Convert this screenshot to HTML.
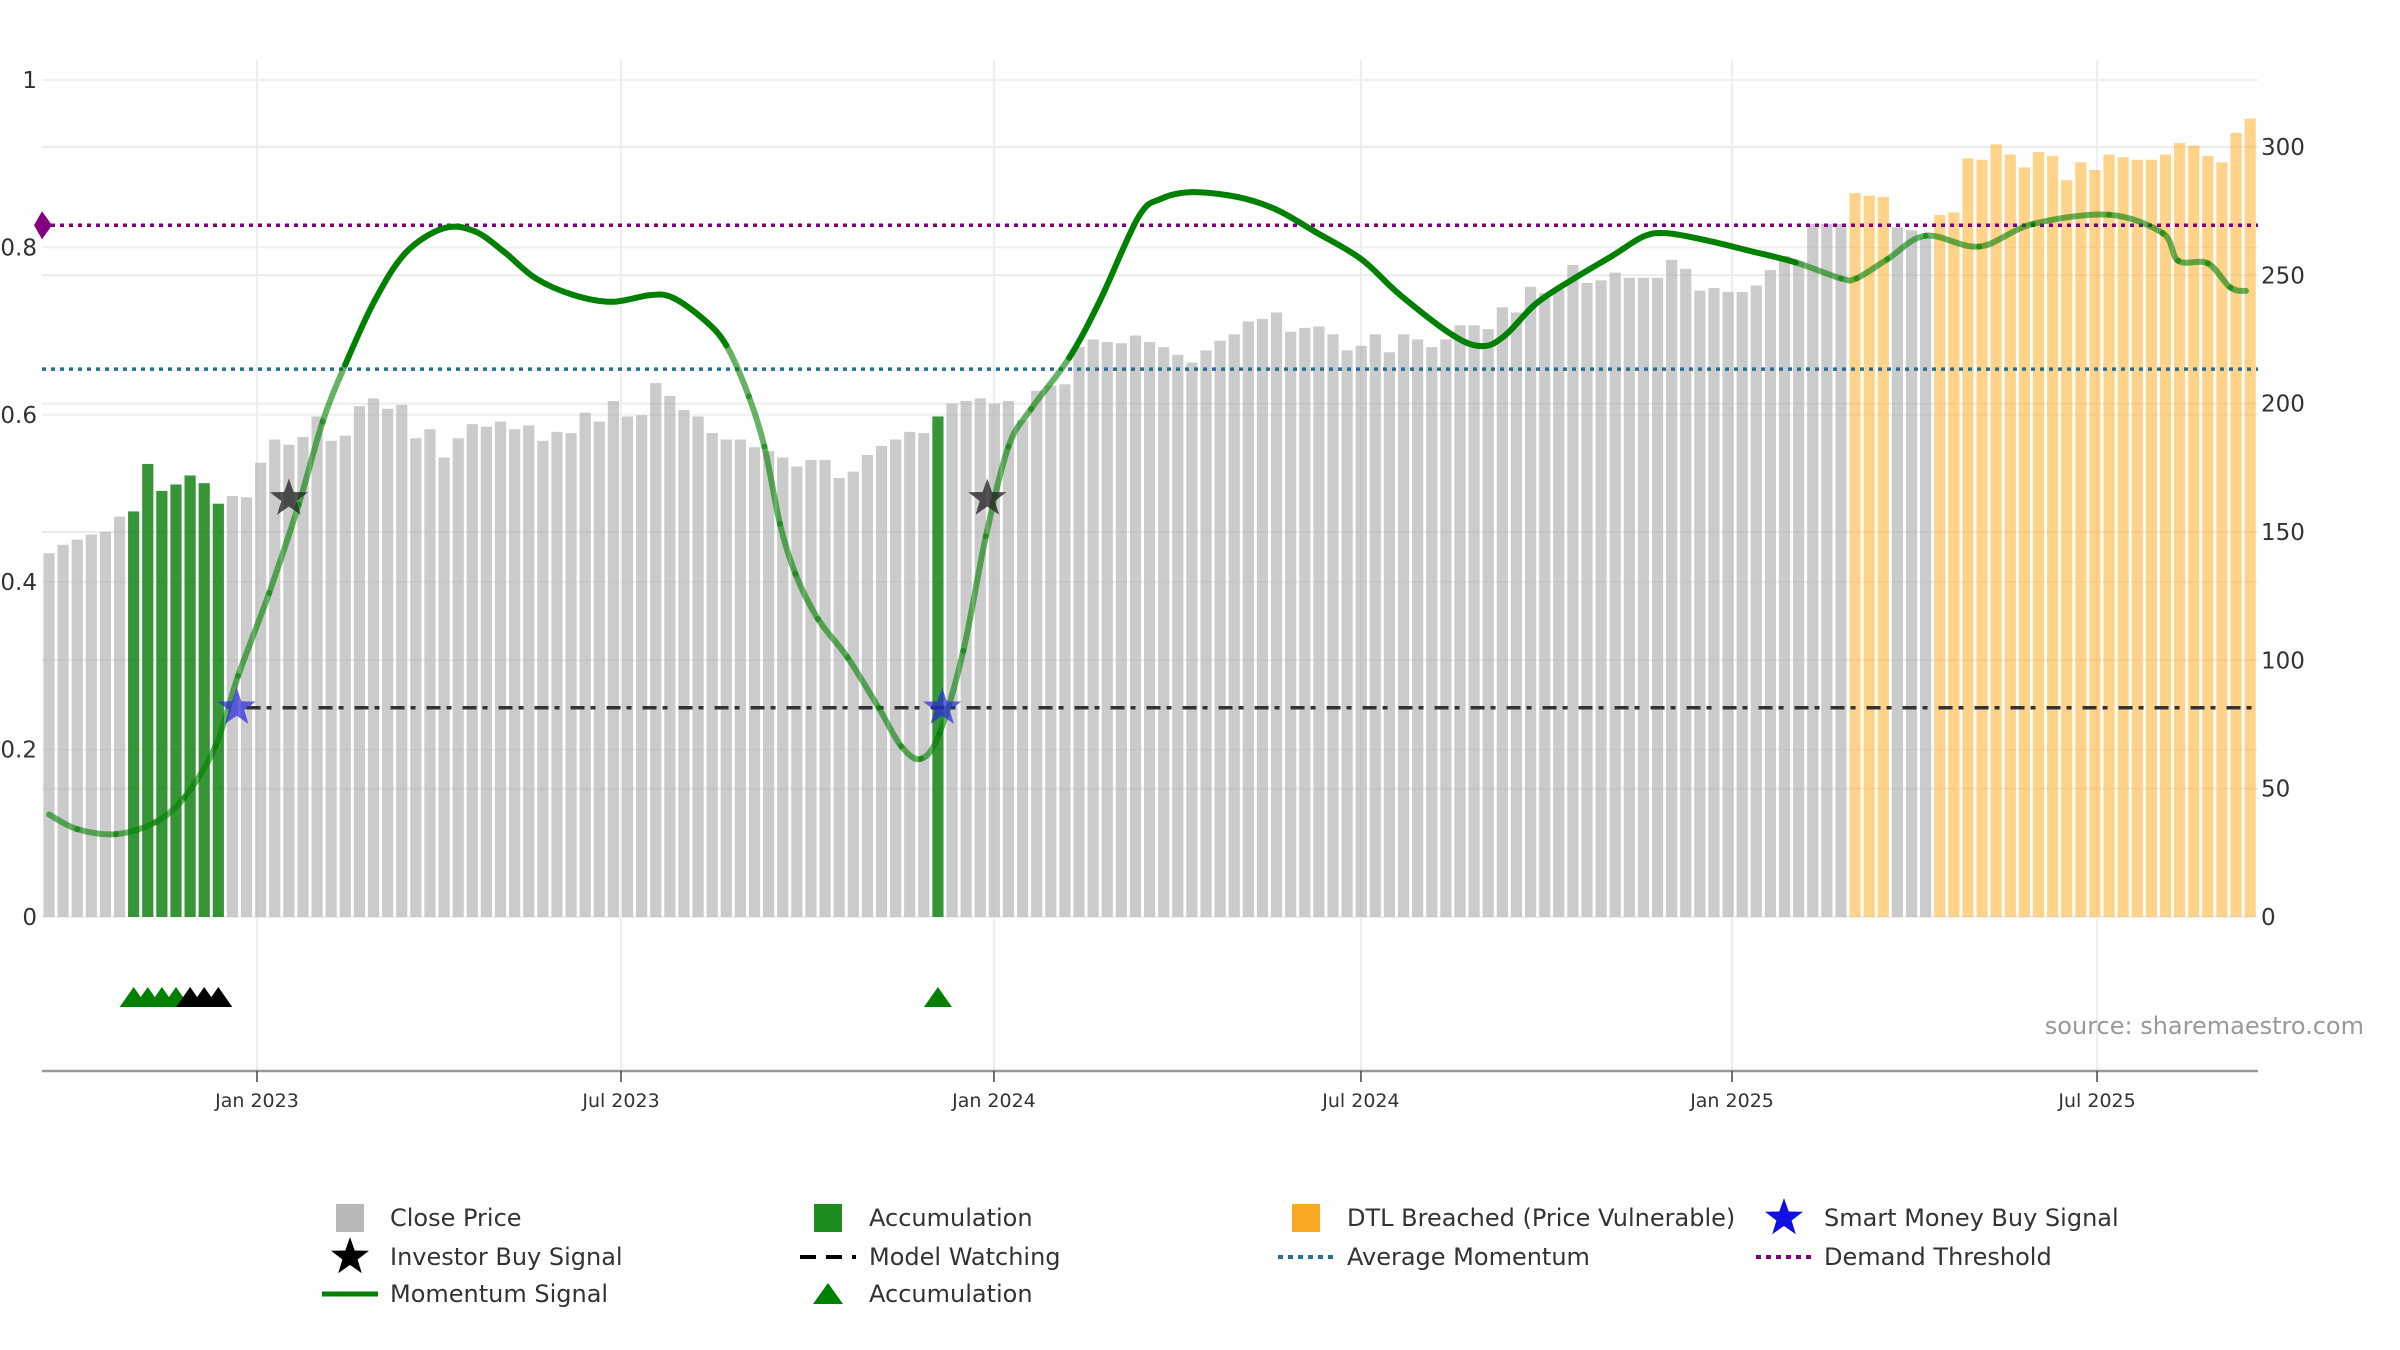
<!DOCTYPE html>
<html><head><meta charset="utf-8"><title>Momentum Chart</title>
<style>
body{margin:0;background:#fff;}
svg{display:block;font-family:"DejaVu Sans","Liberation Sans",sans-serif;}
</style></head>
<body>
<svg id="chart" width="2400" height="1350" viewBox="0 0 2400 1350" xmlns="http://www.w3.org/2000/svg">
<g id="grid"></g>
<g id="bars"></g>
<g id="lines"></g>
<g id="momentum"></g>
<g id="markers"></g>
<g id="axes"></g>
<text x="2364" y="1034" text-anchor="end" font-size="24" fill="#999">source: sharemaestro.com</text>
<g id="legend"></g>
</svg>
<script>
// ---- data ----
const prices = [141.7,145,147,149,150,156,158,176.5,166,168.5,172,169,161,164,163.5,177,186,184,187,195,185.5,187.5,199,202,198,199.5,186.5,190,179,186.5,192,191,193,190,191.5,185.5,189,188.5,196.5,193,201,195,195.5,208,203,197.5,195,188.5,186,186,183,181.5,179,175.5,178,178,171,173.5,180,183.5,186,189,188.5,195,200,201,202,200,201,193.5,205,207,207.5,222,225,224,223.5,226.5,224,222,219,216,
220.7,224.5,227,232,233,235.5,228,229.5,230,227,220.7,222.5,227,220,227,225,222,225,230.5,230.5,229,237.5,235.5,245.5,243,244.5,254,247,248,251,249,249,249,256,252.5,244,245,243.5,243.5,246,252,257.5,255.5,270,270,270,282,281,280.5,268.7,267.5,265,273.5,274.5,295.6,295,301,297,292,298,296.5,287,294,291,297,296,295,295,297,301.5,300.5,296.5,294,305.5,311];
// bar state ranges (week indices)
const accumulationRanges = [[6,12],[63,63]];
const dtlRanges = [[128,130],[134,156]];
const momentumWeeks = [0,2,4.75,7.5,9.6,11.8,13.4,15.6,17.7,19.4,21,23.1,25.3,28,30.2,32.3,34.5,37.2,39.9,42.6,44.2,46.4,48,49.6,50.7,51.8,52.9,54.5,56.6,58.8,60.4,61.8,63.1,64.8,66.4,68,69.6,72.3,74.5,77.2,78.8,81,84.3,87,89.7,93,95.7,99.5,101.6,103.2,105.4,108.1,110.8,113,114.6,117.3,120.5,123.8,127,128.1,130.3,133,136.8,140.6,146,149.8,150.9,153,154.6,155.7];
const momentumValues = [0.1225,0.105,0.099,0.113,0.143,0.204,0.288,0.387,0.493,0.592,0.66,0.737,0.794,0.823,0.819,0.794,0.763,0.743,0.735,0.743,0.74,0.714,0.683,0.622,0.562,0.47,0.41,0.356,0.31,0.25,0.204,0.189,0.219,0.318,0.455,0.562,0.607,0.668,0.737,0.836,0.858,0.866,0.86,0.845,0.819,0.786,0.744,0.695,0.682,0.695,0.733,0.763,0.79,0.813,0.817,0.809,0.796,0.782,0.763,0.763,0.786,0.814,0.801,0.828,0.839,0.817,0.784,0.781,0.752,0.748];
const demandThreshold = 0.8265;
const avgMomentum = 0.6545;
const modelWatching = 0.25;
const smartMoneyWeeks = [13.3,63.3];
const investorBuyWeeks = [17.0,66.5];
const investorBuyLevel = 0.5;
const accumTriWeeks = [6,7,8,9,63];
const blackTriWeeks = [10,11,12];
const leftTicks = [0,0.2,0.4,0.6,0.8,1];
const leftTickLabels = ["0","0.2","0.4","0.6","0.8","1"];
const rightTicks = [0,50,100,150,200,250,300];
const dateTickWeeks = [14.74,40.54,66.97,92.98,119.28,145.15];
const dateTickLabels = ["Jan 2023","Jul 2023","Jan 2024","Jul 2024","Jan 2025","Jul 2025"];

// ---- scales ----
const NS="http://www.w3.org/2000/svg";
const X0=49, STEP=14.11, BASE=917;
const xW = i => X0 + i*STEP;
const yL = v => BASE - v*837;
const yR = v => BASE - v*2.567;
const PL=42, PR=2258;
function mk(tag, attrs, parent){const e=document.createElementNS(NS,tag);for(const k in attrs)e.setAttribute(k,attrs[k]);parent.appendChild(e);return e;}
const G=id=>document.getElementById(id);
const inR=(i,rs)=>rs.some(r=>i>=r[0]&&i<=r[1]);

// grid
rightTicks.forEach(t=>{const l=mk('line',{x1:PL,x2:PR,y1:yR(t),y2:yR(t),stroke:'#ebebeb','stroke-width':2},G('grid'));

});
leftTicks.forEach(t=>{const l=mk('line',{x1:PL,x2:PR,y1:yL(t),y2:yL(t),stroke:'#f0f0f0','stroke-width':2},G('grid'));

});
dateTickWeeks.forEach(w=>{const l=mk('line',{x1:xW(w),x2:xW(w),y1:60,y2:1071,stroke:'#eeeeee','stroke-width':2},G('grid'));

});

// bars
const colors={g:'rgba(175,175,175,0.65)',a:'rgba(20,130,20,0.85)',d:'rgba(255,175,40,0.55)'};
prices.forEach((p,i)=>{const s=inR(i,accumulationRanges)?'a':(inR(i,dtlRanges)?'d':'g');
const r=mk('rect',{x:xW(i)-5.6,y:yR(p),width:11.2,height:BASE-yR(p),fill:colors[s]},G('bars'));

});

// reference lines
let l=mk('line',{x1:PL,x2:PR,y1:yL(avgMomentum),y2:yL(avgMomentum),stroke:'#2a6f8f','stroke-width':3.5,'stroke-dasharray':'4,5'},G('lines'));


l=mk('line',{x1:PL,x2:PR,y1:yL(demandThreshold),y2:yL(demandThreshold),stroke:'#800080','stroke-width':3.5,'stroke-dasharray':'4,5'},G('lines'));


l=mk('line',{x1:xW(14),x2:PR,y1:yL(modelWatching),y2:yL(modelWatching),stroke:'#333','stroke-width':3.5,'stroke-dasharray':'14,6,5,11'},G('lines'));


const dy=yL(demandThreshold);
l=mk('polygon',{points:`${PL},${dy-14} ${PL+10},${dy} ${PL},${dy+14} ${PL-8},${dy}`,fill:'#800080'},G('lines'));



// momentum smooth path (catmull-rom)
const pts=momentumWeeks.map((w,i)=>[xW(w),yL(momentumValues[i])]);
function seg(i){const p0=pts[Math.max(i-1,0)],p1=pts[i],p2=pts[i+1],p3=pts[Math.min(i+2,pts.length-1)];
const c1=[p1[0]+(p2[0]-p0[0])/6,p1[1]+(p2[1]-p0[1])/6],c2=[p2[0]-(p3[0]-p1[0])/6,p2[1]-(p3[1]-p1[1])/6];
return `M${p1[0]},${p1[1]} C${c1[0]},${c1[1]} ${c2[0]},${c2[1]} ${p2[0]},${p2[1]}`;}
for(let i=0;i<pts.length-1;i++){
 const v=(momentumValues[i]+momentumValues[i+1])/2;
 const weak = v<avgMomentum || momentumWeeks[i]>=123;
 const p=mk('path',{d:seg(i),fill:'none',stroke:'#008000','stroke-width':6,'stroke-linecap':'round',opacity:weak?0.6:1},G('momentum'));
 
 
}

// markers
function starPts(cx,cy,R,r){let s=[];for(let k=0;k<10;k++){const a=-Math.PI/2+k*Math.PI/5,rr=k%2?r:R;s.push((cx+rr*Math.cos(a)).toFixed(1)+','+(cy+rr*Math.sin(a)).toFixed(1));}return s.join(' ');}
smartMoneyWeeks.forEach(w=>{const s=mk('polygon',{points:starPts(xW(w),yL(modelWatching),20,8),fill:'rgba(40,40,220,0.7)'},G('markers'));

});
investorBuyWeeks.forEach(w=>{const s=mk('polygon',{points:starPts(xW(w),yL(investorBuyLevel),20,8),fill:'rgba(40,40,40,0.8)'},G('markers'));

});
function tri(w,fill,name){const cx=xW(w),cy=997;const t=mk('polygon',{points:`${cx-14},${cy+10} ${cx},${cy-10} ${cx+14},${cy+10}`,fill:fill},G('markers'));

}
accumTriWeeks.forEach(w=>tri(w,'#008000','accumulation-triangle'));
blackTriWeeks.forEach(w=>tri(w,'#000','accumulation-triangle-dark'));

// axes
let ax=mk('line',{x1:PL,x2:PR,y1:1071,y2:1071,stroke:'#999','stroke-width':2.5},G('axes'));


leftTicks.forEach((t,i)=>{const e=mk('text',{x:37,y:yL(t)+8,'text-anchor':'end','font-size':23,fill:'#333'},G('axes'));e.textContent=leftTickLabels[i];

});
rightTicks.forEach(t=>{const e=mk('text',{x:2261,y:yR(t)+8,'font-size':23,fill:'#333'},G('axes'));e.textContent=String(t);

});
dateTickWeeks.forEach((w,i)=>{
const tk=mk('line',{x1:xW(w),x2:xW(w),y1:1071,y2:1082,stroke:'#444','stroke-width':1.5},G('axes'));


const e=mk('text',{x:xW(w),y:1107,'text-anchor':'middle','font-size':19,fill:'#333'},G('axes'));e.textContent=dateTickLabels[i];

});

// legend
const lg=G('legend');
function ltext(x,y,s,name){const e=mk('text',{x:x,y:y+8,'font-size':24,fill:'#333'},lg);e.textContent=s;

}
function lsq(x,y,c,name){const e=mk('rect',{x:x-14,y:y-14,width:28,height:28,fill:c},lg);

}
function lline(x,y,c,dash,w,name){const e=mk('line',{x1:x-28,x2:x+28,y1:y,y2:y,stroke:c,'stroke-width':w,'stroke-dasharray':dash},lg);

}
const R1=1218,R2=1257,R3=1294,C1=350,C2=828,C3=1306,C4=1784,T1=390,T2=869,T3=1347,T4=1824;
lsq(C1,R1,'#b8b8b8','legend-close-price-icon');ltext(T1,R1,'Close Price','legend-close-price');
lsq(C2,R1,'#1f8c1f','legend-accumulation-icon');ltext(T2,R1,'Accumulation','legend-accumulation');
lsq(C3,R1,'#f9a825','legend-dtl-icon');ltext(T3,R1,'DTL Breached (Price Vulnerable)','legend-dtl-breached');
let st=mk('polygon',{points:starPts(C4,R1,20,8),fill:'#1010e0'},lg);


ltext(T4,R1,'Smart Money Buy Signal','legend-smart-money');
st=mk('polygon',{points:starPts(C1,R2,20,8),fill:'#000'},lg);


ltext(T1,R2,'Investor Buy Signal','legend-investor-buy');
lline(C2,R2,'#000','16,10',4,'legend-model-watching-icon');ltext(T2,R2,'Model Watching','legend-model-watching');
lline(C3,R2,'#2a6f8f','5,5',4,'legend-average-momentum-icon');ltext(T3,R2,'Average Momentum','legend-average-momentum');
lline(C4,R2,'#800080','5,5',4,'legend-demand-threshold-icon');ltext(T4,R2,'Demand Threshold','legend-demand-threshold');
lline(C1,R3,'#008000','none',5,'legend-momentum-icon');ltext(T1,R3,'Momentum Signal','legend-momentum-signal');
st=mk('polygon',{points:`${C2-15},${R3+10} ${C2},${R3-11} ${C2+15},${R3+10}`,fill:'#008000'},lg);


ltext(T2,R3,'Accumulation','legend-accumulation-triangle');
</script>
</body></html>
